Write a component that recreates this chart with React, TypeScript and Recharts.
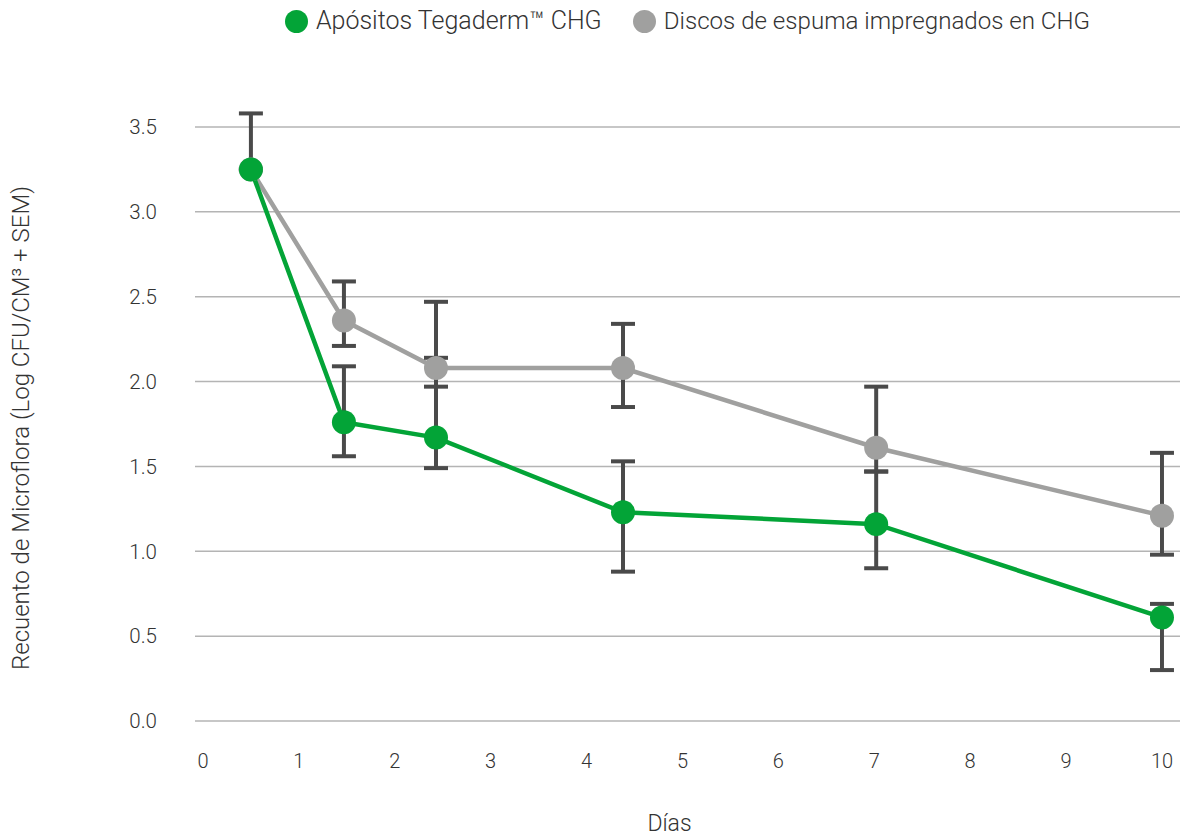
import React from 'react';
import { LineChart, Line, XAxis, YAxis, CartesianGrid, ErrorBar } from 'recharts';

// días (posición en el eje), valores medios y SEM [abajo, arriba]
const days = [0.5, 1.47, 2.43, 4.38, 7.02, 10];
const tegaderm = [3.25, 1.76, 1.67, 1.23, 1.16, 0.61];
const tegadermErr: [number, number][] = [[0, 0.33], [0.2, 0.33], [0.18, 0.47], [0.35, 0.3], [0.26, 0.31], [0.31, 0.08]];
const discos = [3.25, 2.36, 2.08, 2.08, 1.61, 1.21];
const discosErr: [number, number][] = [[0, 0], [0.15, 0.23], [0.11, 0.39], [0.23, 0.26], [0.14, 0.36], [0.23, 0.37]];

const xTicks = [0, 1, 2, 3, 4, 5, 6, 7, 8, 9, 10];
const yTicks = [0, 0.5, 1, 1.5, 2, 2.5, 3, 3.5];

const data = days.map((d, i) => ({
  day: d,
  tegaderm: tegaderm[i],
  tegadermErr: tegadermErr[i],
  discos: discos[i],
  discosErr: discosErr[i],
}));

const GREEN = '#03a437';
const GRAY = '#a0a09f';
const BAR = '#4a4a4a';
const TEXT = '#333333';
const FONT = 'Roboto, "Liberation Sans", sans-serif';

const LegendItem = ({ color, label, size }: { color: string; label: string; size: number }) => (
  <div style={{ display: 'flex', alignItems: 'center', fontSize: size }}>
    <span style={{ width: 23, height: 23, borderRadius: '50%', background: color, display: 'inline-block', marginRight: 8 }} />
    <span>{label}</span>
  </div>
);

export default function App() {
  return (
    <div style={{ position: 'absolute', left: 0, top: 0, width: 1180, height: 838, background: '#fff', fontFamily: FONT, fontWeight: 300 }}>
      <div
        style={{
          position: 'absolute', top: 6, left: 195, width: 985, display: 'flex', justifyContent: 'center',
          gap: 31, color: TEXT, lineHeight: '30px',
        }}
      >
        <LegendItem color={GREEN} label="Apósitos Tegaderm™ CHG" size={25} />
        <LegendItem color={GRAY} label="Discos de espuma impregnados en CHG" size={24.1} />
      </div>
      <LineChart width={1180} height={838} data={data} margin={{ top: 127, right: 0, left: 0, bottom: 0 }}>
        <CartesianGrid vertical={false} stroke="#b4b4b4" strokeWidth={1.5} />
        <XAxis
          dataKey="day"
          type="number"
          domain={[-0.083, 10.188]}
          allowDataOverflow
          ticks={xTicks}
          height={117}
          axisLine={false}
          tickLine={false}
          tickSize={0}
          tickMargin={33}
          tick={{ fontSize: 20, fill: TEXT, fontFamily: FONT, fontWeight: 300 }}
          label={{ value: 'Días', position: 'insideBottom', offset: 7, dx: -18, fontSize: 23, fill: TEXT, fontFamily: FONT, fontWeight: 300 }}
        />
        <YAxis
          type="number"
          domain={[0, 3.5]}
          allowDataOverflow
          ticks={yTicks}
          width={195}
          axisLine={false}
          tickLine={false}
          tickSize={0}
          tickMargin={38}
          tickFormatter={(v: number) => v.toFixed(1)}
          tick={{ fontSize: 20.5, fill: TEXT, fontFamily: FONT, fontWeight: 300 }}
          label={{
            value: 'Recuento de Microflora (Log CFU/CM³ + SEM)',
            angle: -90,
            position: 'insideLeft',
            offset: 20,
            dy: 4,
            style: { textAnchor: 'middle' },
            fontSize: 24,
            fill: TEXT,
            fontFamily: FONT,
            fontWeight: 300,
          }}
        />
        <Line
          dataKey="discos"
          stroke={GRAY}
          strokeWidth={4.5}
          dot={{ r: 12, fill: GRAY, stroke: GRAY, strokeWidth: 0 }}
          activeDot={false}
          isAnimationActive={false}
        >
          <ErrorBar dataKey="discosErr" direction="y" width={12} strokeWidth={4} stroke={BAR} isAnimationActive={false} />
        </Line>
        <Line
          dataKey="tegaderm"
          stroke={GREEN}
          strokeWidth={4.5}
          dot={{ r: 12, fill: GREEN, stroke: GREEN, strokeWidth: 0 }}
          activeDot={false}
          isAnimationActive={false}
        >
          <ErrorBar dataKey="tegadermErr" direction="y" width={12} strokeWidth={4} stroke={BAR} isAnimationActive={false} />
        </Line>
      </LineChart>
    </div>
  );
}
